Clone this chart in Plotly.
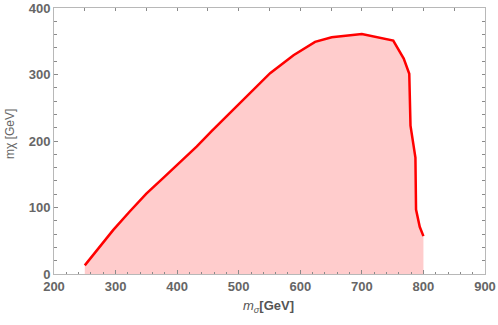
import plotly.graph_objects as go

# boundary of the allowed region
m_sigma = [250, 275, 296, 323, 350, 378, 405, 432, 456, 486, 518, 551, 589,
           624, 651, 675, 700, 751, 768, 777, 779, 787, 788, 794, 800]
m_chi = [13, 41, 66, 94, 121, 145, 168, 192, 215, 242, 272, 302, 329,
         349, 356, 358, 361, 351, 324, 301, 223, 175, 97, 71, 57]

x_ticks = [200, 300, 400, 500, 600, 700, 800, 900]
y_ticks = [0, 100, 200, 300, 400]

W, H = 498, 325
L, R, T, B = 54, 13, 8, 51

fig = go.Figure()

fig.add_trace(go.Scatter(x=m_sigma, y=m_chi, mode="lines",
                         line=dict(color="#ff0000", width=2.5),
                         fill="tozeroy", fillcolor="rgb(255,204,204)",
                         hoverinfo="skip", showlegend=False))

# invisible trace so the mirrored top/right axes get drawn
fig.add_trace(go.Scatter(x=[None], y=[None], xaxis="x2", yaxis="y2",
                         showlegend=False, hoverinfo="skip"))

frame = "#b8b8b8"
tickc = "#8a8a8a"
lab_font = dict(family="Liberation Sans, Arial", size=13, color="#666666", weight="bold")

fig.update_layout(
    width=W, height=H,
    margin=dict(l=L, r=R, t=T, b=B, autoexpand=False),
    plot_bgcolor="white", paper_bgcolor="white",
    xaxis=dict(range=[200, 900], tickvals=x_ticks, ticks="inside", ticklen=4,
               tickcolor=tickc, tickfont=lab_font, showgrid=False, zeroline=False,
               showline=True, linecolor=frame, linewidth=1, mirror=True, automargin=False,
               minor=dict(dtick=20, tick0=200, ticks="inside", ticklen=2.5, tickcolor=tickc)),
    yaxis=dict(range=[0, 400], tickvals=y_ticks, ticks="inside", ticklen=4,
               tickcolor=tickc, tickfont=lab_font, showgrid=False, zeroline=False,
               showline=True, linecolor=frame, linewidth=1, mirror=True, automargin=False,
               minor=dict(dtick=20, tick0=0, ticks="inside", ticklen=2.5, tickcolor=tickc)),
    xaxis2=dict(range=[200, 900], overlaying="x", side="top", anchor="y",
                dtick=50, tick0=200, ticks="inside", ticklen=3, tickcolor=tickc,
                showticklabels=False, showgrid=False, zeroline=False, automargin=False),
    yaxis2=dict(range=[0, 400], overlaying="y", side="right", anchor="x",
                dtick=20, tick0=0, ticks="inside", ticklen=3, tickcolor=tickc,
                showticklabels=False, showgrid=False, zeroline=False, automargin=False),
)

pw = W - L - R
ph = H - T - B
fig.add_annotation(text="<i>m</i><sub><i>σ</i></sub><b>[GeV]</b>",
                   xref="paper", yref="paper",
                   x=(268 - L) / pw, y=(H - B - 306) / ph,
                   showarrow=False, xanchor="center", yanchor="middle",
                   font=dict(family="Liberation Sans, Arial", size=13, color="#555555"))
fig.add_annotation(text="mχ [GeV]", xref="paper", yref="paper",
                   x=(10 - L) / pw, y=(H - B - 134) / ph, textangle=-90,
                   showarrow=False, xanchor="center", yanchor="middle",
                   font=dict(family="Liberation Sans, Arial", size=12, color="#666666"))

# drop the default page margin so the figure sits at the window corner
fig.write_html("out.html", config={"displayModeBar": False},
               post_script="document.body.style.margin='0';")
